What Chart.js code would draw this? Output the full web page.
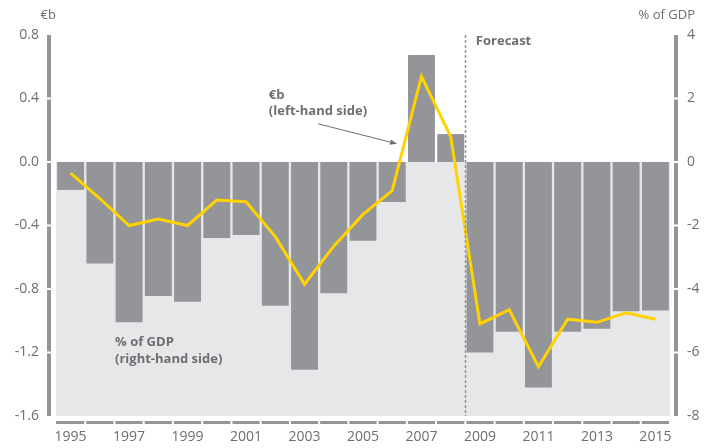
<!DOCTYPE html>
<html>
<head>
<meta charset="utf-8">
<script src="https://cdn.jsdelivr.net/npm/chart.js@4.4.1/dist/chart.umd.min.js"></script>
<style>
    html, body { margin: 0; padding: 0; background: #fff; }
    #wrap { width: 713px; height: 448px; }
</style>
</head>
<body>
<div id="wrap">
    <canvas id="balanceChartCanvas" width="713" height="448"></canvas>
</div>
<script>
// years on the x axis
const years = ["1995", "1996", "1997", "1998", "1999", "2000", "2001", "2002", "2003", "2004", "2005",
    "2006", "2007", "2008", "2009", "2010", "2011", "2012", "2013", "2014", "2015"];
// bars, % of GDP (right-hand side)
const gdpShare = [-0.88, -3.2, -5.05, -4.22, -4.4, -2.39, -2.3, -4.53, -6.54, -4.13, -2.48,
    -1.26, 3.37, 0.88, -6.0, -5.35, -7.1, -5.35, -5.25, -4.7, -4.68];
// yellow line, €b (left-hand side)
const euroBillions = [-0.07, -0.23, -0.40, -0.36, -0.40, -0.24, -0.25, -0.47, -0.77, -0.53, -0.33,
    -0.18, 0.54, 0.16, -1.02, -0.93, -1.29, -0.99, -1.01, -0.95, -0.99];
const leftTicks = [-1.6, -1.2, -0.8, -0.4, 0.0, 0.4, 0.8];
const rightTicks = [-8, -6, -4, -2, 0, 2, 4];
const forecastFrom = "2009";

const grey = "#939598";
const lightGrey = "#e6e7e8";
const textGrey = "#6d6e71";
const yellow = "#ffd200";

Chart.defaults.font.family = "'Open Sans', sans-serif";
Chart.defaults.font.size = 14;
Chart.defaults.color = textGrey;

// background, axis bars, forecast marker and the notes
const decor = {
    id: "decor",
    beforeDatasetsDraw(chart) {
        const ctx = chart.ctx;
        const area = chart.chartArea;
        const zero = chart.scales.y2.getPixelForValue(0);
        ctx.save();
        ctx.fillStyle = lightGrey;
        ctx.fillRect(area.left, zero, area.right - area.left, area.bottom - zero);
        ctx.restore();
    },
    afterDatasetsDraw(chart) {
        const ctx = chart.ctx;
        const area = chart.chartArea;
        const x = chart.scales.x;
        const y = chart.scales.y;
        const y2 = chart.scales.y2;
        const catW = (area.right - area.left) / years.length;
        // position helper: category position + left-axis value
        const at = (c, v) => [area.left + c * catW, y.getPixelForValue(v)];

        ctx.save();

        // forecast divider
        const fi = years.indexOf(forecastFrom);
        const fx = Math.round((x.getPixelForValue(fi - 1) + x.getPixelForValue(fi)) / 2) + 0.5;
        ctx.strokeStyle = grey;
        ctx.lineWidth = 1.5;
        ctx.setLineDash([3, 2]);
        ctx.beginPath();
        ctx.moveTo(fx, area.top);
        ctx.lineTo(fx, area.bottom);
        ctx.stroke();
        ctx.setLineDash([]);

        // segmented axis bars
        ctx.fillStyle = grey;
        const vBar = (px, scale, ticks) => {
            const ys = ticks.map(t => scale.getPixelForValue(t)).sort((a, b) => a - b);
            for (let i = 0; i < ys.length - 1; i++) {
                const top = ys[i] + (i == 0 ? 0 : 1);
                const bot = ys[i + 1] - (i == ys.length - 2 ? 0 : 1);
                ctx.fillRect(px, top, 4, bot - top);
            }
        };
        vBar(area.left - 9, y, leftTicks);
        vBar(area.right + 4, y2, rightTicks);
        for (let i = 0; i < years.length; i++) {
            const l = area.left + i * catW + (i == 0 ? 0 : 1);
            const r = area.left + (i + 1) * catW - 1;
            ctx.fillRect(l, area.bottom + 5, r - l, 3);
        }

        // axis titles
        ctx.fillStyle = textGrey;
        ctx.font = "13px 'Open Sans', sans-serif";
        ctx.textBaseline = "middle";
        ctx.textAlign = "right";
        ctx.fillText("€b", area.left, 15);
        ctx.fillText("% of GDP", chart.width - 18, 15);

        // notes
        ctx.font = "bold 13px 'Open Sans', sans-serif";
        ctx.textAlign = "left";
        let p = at(14.36, 0.762);
        ctx.fillText("Forecast", p[0], p[1]);
        p = at(7.28, 0.42);
        ctx.fillText("€b", p[0], p[1]);
        p = at(7.28, 0.32);
        ctx.fillText("(left-hand side)", p[0], p[1]);
        p = at(2.02, -1.138);
        ctx.fillText("% of GDP", p[0], p[1]);
        p = at(2.02, -1.241);
        ctx.fillText("(right-hand side)", p[0], p[1]);

        // arrow
        const a = at(8.96, 0.241);
        const b = at(11.65, 0.115);
        ctx.strokeStyle = textGrey;
        ctx.lineWidth = 1;
        ctx.beginPath();
        ctx.moveTo(a[0], a[1]);
        ctx.lineTo(b[0], b[1]);
        ctx.stroke();
        const ang = Math.atan2(b[1] - a[1], b[0] - a[0]);
        ctx.beginPath();
        ctx.moveTo(b[0], b[1]);
        ctx.lineTo(b[0] - 7 * Math.cos(ang - 0.4), b[1] - 7 * Math.sin(ang - 0.4));
        ctx.lineTo(b[0] - 7 * Math.cos(ang + 0.4), b[1] - 7 * Math.sin(ang + 0.4));
        ctx.closePath();
        ctx.fill();

        ctx.restore();
    }
};

const balanceChart = new Chart(document.querySelector("#balanceChartCanvas"), {
    data: {
        labels: years,
        datasets: [
            {
                type: "line",
                label: "€b",
                data: euroBillions,
                yAxisID: "y",
                borderColor: yellow,
                borderWidth: 3,
                pointRadius: 0,
                tension: 0,
                order: 0
            },
            {
                type: "bar",
                label: "% of GDP",
                data: gdpShare,
                yAxisID: "y2",
                backgroundColor: grey,
                barPercentage: 0.92,
                categoryPercentage: 1,
                order: 1
            }
        ]
    },
    plugins: [decor],
    options: {
        responsive: false,
        animation: false,
        layout: { padding: { top: 35 } },
        plugins: {
            legend: { display: false },
            tooltip: { enabled: false }
        },
        scales: {
            x: {
                grid: { display: false, drawTicks: false },
                border: { display: false },
                ticks: {
                    autoSkip: false,
                    maxRotation: 0,
                    padding: 13,
                    callback: function (value, index) {
                        return index % 2 == 0 ? years[index] : "";
                    }
                },
                afterFit: (scale) => { scale.height = 32; }
            },
            y: {
                position: "left",
                min: -1.6,
                max: 0.8,
                grid: { display: false, drawTicks: false },
                border: { display: false },
                ticks: {
                    stepSize: 0.4,
                    padding: 17,
                    callback: (v) => v.toFixed(1)
                },
                afterFit: (scale) => { scale.width = 56; }
            },
            y2: {
                position: "right",
                min: -8,
                max: 4,
                grid: { display: false, drawTicks: false },
                border: { display: false },
                ticks: {
                    stepSize: 2,
                    padding: 17
                },
                afterFit: (scale) => { scale.width = 43; }
            }
        }
    }
});
</script>
</body>
</html>
